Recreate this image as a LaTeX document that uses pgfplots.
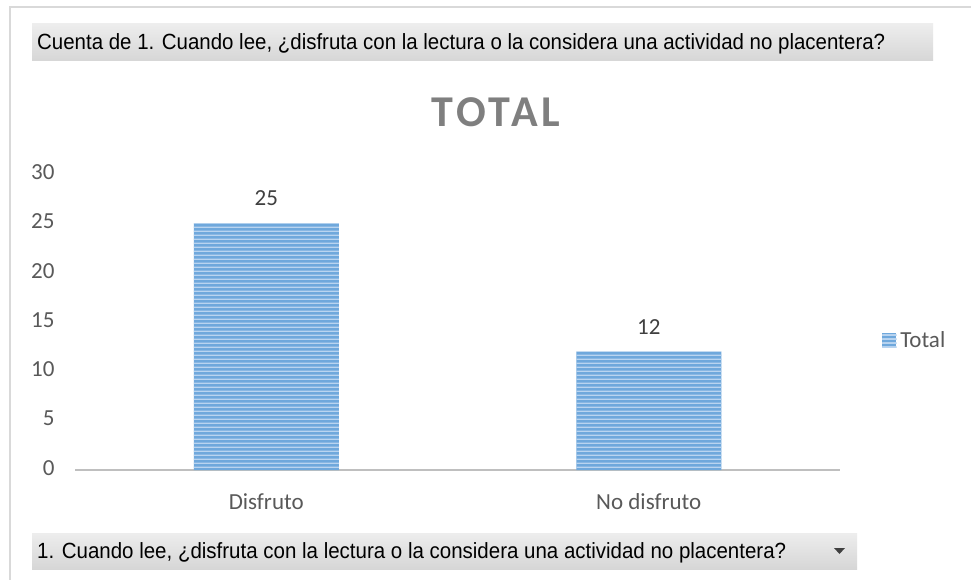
\documentclass[border=0pt]{standalone}
\usepackage{pgfplots}
\pgfplotsset{compat=1.18}
\usepackage{fontspec}
\setmainfont{Carlito}
\newfontfamily\btnfont{Liberation Sans}
\newfontfamily\titlefont[LetterSpace=9]{Carlito}
\usetikzlibrary{patterns}

% horizontal stripes, drawn as filled bands
\pgfdeclarepatternformonly{hstripes}{\pgfpointorigin}{\pgfqpoint{1000pt}{4pt}}{\pgfqpoint{1000pt}{4pt}}{%
  \pgfpathrectangle{\pgfpointorigin}{\pgfqpoint{1000pt}{1.8pt}}\pgfusepath{fill}}

\definecolor{barblue}{HTML}{6FA8DC}
\definecolor{barlight}{HTML}{B9D4F0}
\definecolor{txtgray}{HTML}{595959}
\definecolor{lblgray}{HTML}{404040}
\definecolor{ttlgray}{HTML}{7F7F7F}
\definecolor{axgray}{HTML}{BFBFBF}
\definecolor{framegray}{HTML}{D9D9D9}

\begin{document}
\begin{tikzpicture}[x=1pt,y=1pt]
\useasboundingbox[fill=white] (0,0) rectangle (971,-580);
% chart frame
\draw[framegray, line width=2pt] (10,-580) -- (10,-7.5) -- (971,-7.5);

% pivot field buttons
\shade[top color=gray!14, bottom color=gray!32] (32,-24) rectangle (933,-61);
\node[anchor=base west, inner sep=0pt] at (37,-50)
  {\resizebox{848pt}{\height}{\btnfont\fontsize{22}{22}\selectfont Cuenta de 1. Cuando lee, ¿disfruta con la lectura o la considera una actividad no placentera?}};
\shade[top color=gray!14, bottom color=gray!32] (32,-533) rectangle (857,-569);
\node[anchor=base west, inner sep=0pt] at (37,-558)
  {\resizebox{749pt}{\height}{\btnfont\fontsize{22}{22}\selectfont 1. Cuando lee, ¿disfruta con la lectura o la considera una actividad no placentera?}};
\fill[lblgray] (834,-548) -- (845,-548) -- (839.5,-554) -- cycle;

% title
\node[text=ttlgray, anchor=base, inner sep=0pt] at (496,-127)
  {\titlefont\bfseries\fontsize{44}{44}\selectfont TOTAL};

\begin{axis}[
    at={(75pt,-470pt)}, anchor=south west,
    scale only axis,
    width=765pt, height=296pt,
    ybar, bar width=145pt,
    xmin=-0.5, xmax=1.5,
    ymin=0, ymax=30,
    ytick={0,5,...,30},
    xtick={0,1},
    xticklabels={Disfruto, No disfruto},
    axis x line*=bottom,
    axis y line*=left,
    y axis line style={draw=none},
    x axis line style={axgray, line width=1.8pt, -},
    major tick length=0pt,
    ticklabel style={font=\fontsize{23}{23}\selectfont, text=txtgray},
    /pgf/number format/assume math mode=true,
    yticklabel style={xshift=-17pt, yshift=2pt},
    xticklabel style={yshift=-20pt},
    nodes near coords,
    every node near coord/.append style={font=\fontsize{23}{23}\selectfont, text=lblgray, yshift=14pt},
    legend style={at={(1.055,0.439)}, anchor=west, draw=none, fill=none,
      font=\fontsize{23}{23}\selectfont, text=txtgray, inner sep=0pt,
      nodes={inner xsep=4pt}},
    legend image code/.code={
      \fill[barblue] (0pt,-7pt) rectangle (14pt,7pt);
      \fill[pattern=hstripes, pattern color=barlight] (0pt,-7pt) rectangle (14pt,7pt);
    },
]
\addplot[draw=none, fill=barblue,
  postaction={pattern=hstripes, pattern color=barlight}]
  coordinates {(0,25) (1,12)};
\addlegendentry{Total}
\end{axis}
\end{tikzpicture}
\end{document}
